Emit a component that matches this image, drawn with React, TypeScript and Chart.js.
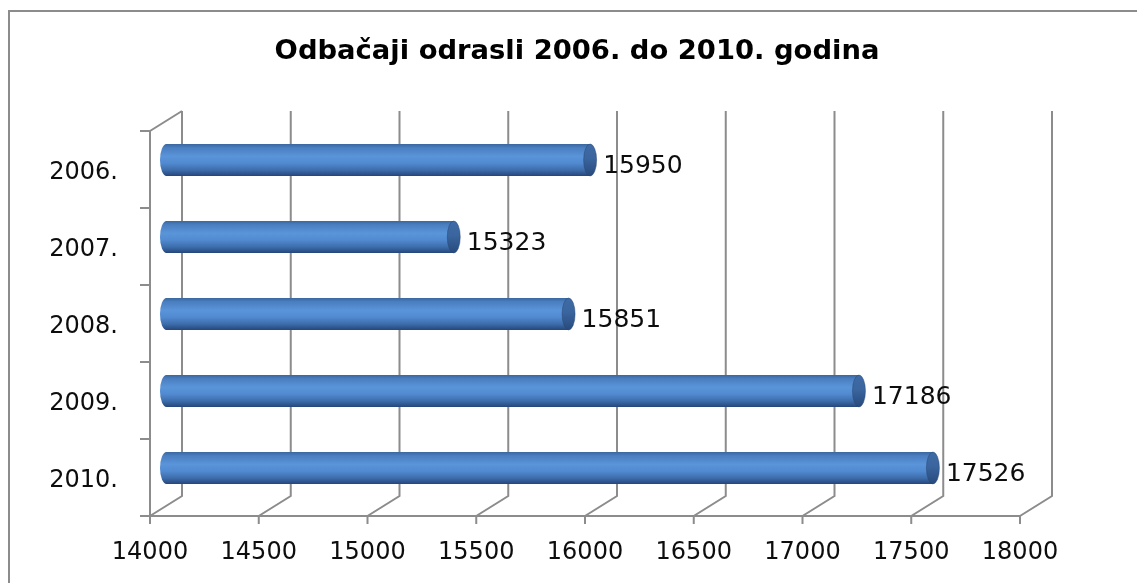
import React, { useEffect, useRef } from "react";
import { Chart, registerables } from "chart.js";

Chart.register(...registerables);

// ---- data ----
const categories = ["2006.", "2007.", "2008.", "2009.", "2010."];
const values = [15950, 15323, 15851, 17186, 17526];
const xMin = 14000;
const xMax = 18000;
const xStep = 500;
const titleText = "Odbačaji odrasli 2006. do 2010. godina";

// ---- style ----
const FONT = "'DejaVu Sans', sans-serif";
const LINE = "#8c8c8c";
const DEPTH_X = 32;
const DEPTH_Y = -20;
const BAR_DX = 16;
const BAR_DY = -9.5;
const CAP_RX = 6.5;
const BAR_PCT = 0.415;
const TITLE_X = 577;
const TITLE_Y = 52;

function bodyGradient(ctx: CanvasRenderingContext2D, yc: number, half: number) {
  const g = ctx.createLinearGradient(0, yc - half, 0, yc + half);
  g.addColorStop(0, "#3b679f");
  g.addColorStop(0.12, "#4a7fc1");
  g.addColorStop(0.38, "#5a94d9");
  g.addColorStop(0.6, "#518ad0");
  g.addColorStop(0.82, "#3c6caa");
  g.addColorStop(1, "#26467a");
  return g;
}

function capGradient(ctx: CanvasRenderingContext2D, yc: number, half: number) {
  const g = ctx.createLinearGradient(0, yc - half, 0, yc + half);
  g.addColorStop(0, "#3f6ba6");
  g.addColorStop(0.45, "#3a659e");
  g.addColorStop(1, "#284a7d");
  return g;
}

const frame3d = {
  id: "frame3d",
  beforeDatasetsDraw(chart: any) {
    const { ctx, chartArea: a, scales } = chart;
    const xs = scales.x;
    ctx.save();
    // title
    ctx.font = `bold 27.4px ${FONT}`;
    ctx.fillStyle = "#000";
    ctx.textAlign = "center";
    ctx.textBaseline = "middle";
    ctx.fillText(titleText, TITLE_X, TITLE_Y);

    ctx.strokeStyle = LINE;
    ctx.lineWidth = 2;
    // outer chart border
    ctx.beginPath();
    ctx.moveTo(9, chart.height + 4);
    ctx.lineTo(9, 11);
    ctx.lineTo(chart.width + 4, 11);
    ctx.stroke();

    // left wall
    ctx.beginPath();
    ctx.moveTo(a.left, a.bottom);
    ctx.lineTo(a.left, a.top);
    ctx.lineTo(a.left + DEPTH_X, a.top + DEPTH_Y);
    ctx.stroke();
    // category tick marks
    const n = categories.length;
    for (let i = 0; i <= n; i++) {
      const y = a.top + (i * a.height) / n;
      ctx.beginPath();
      ctx.moveTo(a.left - 10, y);
      ctx.lineTo(a.left, y);
      ctx.stroke();
    }
    // floor front edge
    ctx.beginPath();
    ctx.moveTo(a.left, a.bottom);
    ctx.lineTo(a.right, a.bottom);
    ctx.stroke();
    // value ticks, floor diagonals, back gridlines
    xs.ticks.forEach((t: any) => {
      const px = xs.getPixelForValue(t.value);
      ctx.beginPath();
      ctx.moveTo(px, a.bottom + 8);
      ctx.lineTo(px, a.bottom);
      ctx.lineTo(px + DEPTH_X, a.bottom + DEPTH_Y);
      ctx.lineTo(px + DEPTH_X, a.top + DEPTH_Y);
      ctx.stroke();
    });
    ctx.restore();
  },
  beforeDatasetDraw(chart: any) {
    const ctx = chart.ctx;
    ctx.save();
    ctx.translate(BAR_DX, BAR_DY);
    // left rounded ends (behind body)
    const meta = chart.getDatasetMeta(0);
    meta.data.forEach((el: any) => {
      const half = el.height / 2;
      ctx.beginPath();
      ctx.ellipse(el.base + 0.5, el.y, CAP_RX, half, 0, Math.PI / 2, (3 * Math.PI) / 2);
      ctx.closePath();
      ctx.fillStyle = bodyGradient(ctx, el.y, half);
      ctx.fill();
    });
  },
  afterDatasetDraw(chart: any) {
    const ctx = chart.ctx;
    const meta = chart.getDatasetMeta(0);
    meta.data.forEach((el: any) => {
      const half = el.height / 2;
      ctx.beginPath();
      ctx.ellipse(el.x, el.y, CAP_RX, half, 0, 0, Math.PI * 2);
      ctx.fillStyle = capGradient(ctx, el.y, half);
      ctx.fill();
      ctx.strokeStyle = "rgba(40,70,115,0.6)";
      ctx.lineWidth = 0.8;
      ctx.stroke();
    });
    ctx.restore();
    // data labels
    ctx.save();
    ctx.font = `25px ${FONT}`;
    ctx.fillStyle = "#0d0d0d";
    ctx.textAlign = "left";
    ctx.textBaseline = "middle";
    meta.data.forEach((el: any, i: number) => {
      ctx.fillText(String(values[i]), el.x + BAR_DX + 13, el.y + BAR_DY + 6.5);
    });
    ctx.restore();
  },
};

export default function App() {
  const ref = useRef<HTMLCanvasElement | null>(null);
  useEffect(() => {
    if (!ref.current) return;
    const chart = new Chart(ref.current, {
      type: "bar",
      data: {
        labels: categories,
        datasets: [
          {
            data: values,
            base: xMin,
            barPercentage: BAR_PCT,
            categoryPercentage: 1,
            borderWidth: 0,
            clip: false as any,
            backgroundColor: (c: any) => {
              const chart = c.chart;
              const ys = chart.scales?.y;
              const area = chart.chartArea;
              if (!ys || !area || c.dataIndex === undefined) return "#4f86c6";
              const yc = ys.getPixelForValue(c.dataIndex);
              const half = ((area.height / categories.length) * BAR_PCT) / 2;
              return bodyGradient(chart.ctx, yc, half);
            },
          } as any,
        ],
      },
      options: {
        indexAxis: "y",
        animation: false,
        responsive: false,
        maintainAspectRatio: false,
        events: [],
        layout: { padding: { left: 0, right: 117, top: 131, bottom: 0 } },
        plugins: {
          legend: { display: false },
          tooltip: { enabled: false },
          title: { display: false },
        },
        scales: {
          x: {
            type: "linear",
            min: xMin,
            max: xMax,
            ticks: {
              stepSize: xStep,
              font: { family: FONT, size: 24 },
              color: "#0d0d0d",
              padding: 22,
              maxRotation: 0,
              autoSkip: false,
              callback: (v: any) => String(v),
            },
            grid: { display: false, drawTicks: false },
            border: { display: false },
            afterFit: (s: any) => {
              s.height = 67;
            },
          },
          y: {
            type: "category",
            offset: true,
            ticks: {
              font: { family: FONT, size: 24 },
              color: "#0d0d0d",
              padding: 32,
              labelOffset: 3,
            },
            grid: { display: false, drawTicks: false },
            border: { display: false },
            afterFit: (s: any) => {
              s.width = 150;
            },
          },
        },
      },
      plugins: [frame3d],
    });
    return () => chart.destroy();
  }, []);
  return (
    <div style={{ position: "absolute", left: 0, top: 0, width: 1137, height: 583, background: "#fff", overflow: "hidden" }}>
      <canvas ref={ref} width={1137} height={583} style={{ display: "block" }} />
    </div>
  );
}
